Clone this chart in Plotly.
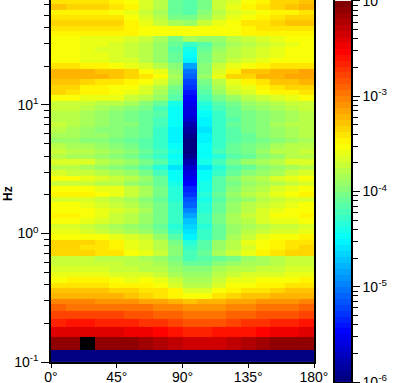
import plotly.graph_objects as go
import numpy as np

# angle bin edges (degrees)
angle_edges = [0,10,20,30,40,50,60,70,80,90,100,110,120,130,140,150,160,170,180]
# frequency bin edges (Hz)
freq_edges = [.1,.124,.1565,.187,.216,.249,.283,.312,.343,.378,.416,.458,.504,.555,.611,.672,.740,.814,.896,.986,
 1.085,1.194,1.314,1.447,1.592,1.752,1.929,2.123,2.336,2.571,2.830,3.115,3.428,3.773,4.153,4.571,5.031,5.537,
 6.094,6.707,7.382,8.125,8.942,9.842,10.83,11.92,13.12,14.44,15.90,17.49,19.25,21.19,23.32,25.67,28.25,31.09,
 34.22,37.66,41.45,45.62,50.21,55.26,60.82,66.9]

# colour level of each cell (1/16 decade steps above 1e-6), bottom row first
levels = [
[0,0,0,0,0,0,0,0,0,0,0,0,0,0,0,0,0,0],
[62,62,64,62,62,62,61,60,59,58,58,58,59,60,61,62,62,62],
[57,57,57,57,57,56,56,55,54,53,53,54,54,54,55,56,56,57],
[53,54,54,53,53,53,52,52,51,50,50,50,51,52,52,53,53,54],
[51,51,51,51,51,50,50,49,49,48,48,48,49,49,50,50,50,51],
[49,48,48,48,48,48,48,47,47,46,46,46,47,47,48,48,48,49],
[47,47,47,46,46,46,45,45,44,43,44,44,45,45,46,46,46,47],
[44,44,44,44,44,43,42,41,40,39,39,41,42,43,43,44,44,44],
[43,43,43,43,42,42,41,41,40,37,37,39,40,41,41,42,43,43],
[41,41,41,41,40,40,40,39,37,35,35,37,39,39,40,40,41,41],
[39,40,40,40,39,38,39,38,36,34,34,36,38,38,39,39,39,40],
[38,38,38,38,37,37,37,36,34,33,33,35,36,37,37,37,38,38],
[37,37,37,37,36,36,35,35,33,32,32,34,35,35,36,36,37,37],
[36,36,36,36,36,35,35,34,32,30,30,32,33,34,34,35,36,36],
[36,36,36,35,35,35,34,33,31,28,29,30,31,33,34,35,36,36],
[42,42,42,41,41,39,38,36,32,28,30,34,36,38,40,41,42,42],
[42,42,41,41,40,38,37,35,32,27,29,33,35,37,39,40,41,42],
[42,42,42,41,40,38,37,35,31,26,29,33,35,38,39,40,41,41],
[39,39,39,39,38,37,36,33,29,23,27,30,34,36,38,39,39,40],
[38,38,37,36,35,34,33,31,27,22,27,30,33,35,36,37,37,38],
[37,37,36,35,34,33,32,30,26,21,26,30,33,34,35,36,36,37],
[39,39,38,37,36,35,33,31,27,20,27,31,34,35,37,38,38,39],
[40,40,39,38,36,35,33,31,27,18,27,31,34,36,37,39,39,40],
[39,39,39,38,37,36,34,31,27,16,26,30,33,35,37,38,39,39],
[39,39,38,37,36,35,33,31,27,14,26,30,33,35,36,37,38,39],
[37,37,37,36,35,34,32,30,26,13,25,29,32,33,35,36,37,37],
[40,40,40,39,38,36,34,31,26,11,26,30,33,35,36,38,39,40],
[39,39,39,38,38,36,34,31,26,10,25,29,32,34,35,37,38,39],
[36,36,36,35,35,33,32,30,25,8,25,29,31,33,34,35,36,37],
[39,39,38,37,36,35,33,30,24,7,24,29,32,34,35,37,38,39],
[37,36,36,35,34,33,31,28,24,6,24,27,30,32,33,34,36,37],
[35,35,34,33,32,31,29,26,22,5,22,26,29,30,32,33,34,35],
[37,37,37,35,34,33,31,29,25,3,25,28,31,33,34,35,37,37],
[35,34,34,33,32,31,29,27,24,1,24,26,29,30,32,33,35,35],
[36,35,35,34,33,32,30,28,25,0,24,28,30,31,33,35,35,36],
[35,34,34,33,32,31,29,27,24,0,24,27,30,31,32,34,35,35],
[33,33,32,32,31,30,29,27,23,0,23,27,29,30,31,32,33,34],
[34,34,33,33,32,31,30,27,23,1,23,27,29,30,32,33,34,35],
[35,34,33,32,32,31,30,27,23,2,22,27,29,31,32,33,34,35],
[36,35,34,33,32,32,30,28,24,3,23,27,30,31,32,34,35,35],
[35,35,34,33,32,31,30,28,24,5,23,27,29,31,32,33,34,35],
[35,35,34,33,32,31,30,29,24,6,24,27,30,31,32,33,34,35],
[36,36,35,34,33,32,31,28,24,6,25,28,30,32,33,34,35,36],
[36,36,36,35,35,34,32,30,25,7,26,29,31,33,34,35,36,36],
[39,39,38,38,38,36,35,33,29,8,28,31,33,35,36,37,38,39],
[42,41,40,40,39,38,37,34,30,9,29,33,36,37,39,40,40,41],
[42,42,40,40,39,39,37,35,31,11,30,34,37,38,40,41,42,42],
[43,43,42,41,41,40,39,37,33,12,31,35,38,40,41,43,43,44],
[44,44,44,44,43,42,41,39,34,14,33,38,42,42,44,44,45,45],
[44,44,44,43,43,42,39,38,33,15,32,37,40,43,43,44,44,45],
[41,41,40,40,39,38,37,35,32,18,32,36,38,39,40,41,41,41],
[39,39,38,38,37,37,35,33,30,23,31,34,36,37,38,39,39,39],
[39,39,38,38,37,36,35,33,30,24,31,34,35,36,37,38,39,39],
[39,39,38,37,37,36,35,33,29,25,30,33,35,36,37,38,39,39],
[39,39,38,38,37,36,35,33,30,27,29,32,34,35,36,37,38,39],
[39,39,38,38,38,37,36,34,31,34,33,33,35,36,37,38,39,39],
[40,40,40,40,40,40,39,39,39,39,39,39,39,40,40,40,40,40],
[41,41,41,41,41,40,39,39,39,39,39,39,39,40,41,41,41,41],
[42,42,42,42,42,40,38,36,34,33,36,38,39,41,41,42,43,43],
[41,41,41,41,41,39,37,35,31,31,33,36,38,39,40,41,42,42],
[40,40,40,40,39,38,36,34,30,29,32,35,37,38,39,40,40,41],
[43,42,42,42,41,40,37,35,30,29,31,36,38,40,41,42,43,44],
[41,41,41,41,40,39,37,35,30,29,31,36,37,39,40,42,42,43],
]

cbar_level_edges = list(range(65))
y_major = [0.1,1,10]
y_major_text = ["10<sup>-1</sup>","10<sup>0</sup>","10<sup>1</sup>"]
y_minor = [m*d for d in (0.1,1,10) for m in (2,3,4,5,6,7,8,9)]
x_ticks = [0,45,90,135,180]
x_text = ["0°","45°","90°","135°","180°"]
cb_major = [1e-6,1e-5,1e-4,1e-3,1e-2]
cb_text = ["10<sup>-6</sup>","10<sup>-5</sup>","10<sup>-4</sup>","10<sup>-3</sup>","10<sup>-2</sup>"]
cb_minor = [m*d for d in (1e-6,1e-5,1e-4,1e-3) for m in (2,3,4,5,6,7,8,9)]

def jet(i, n=64):
    t = i/(n-1)
    f = lambda c: max(0.0, min(1.0, 1.5-abs(4*t-c)))
    return "rgb(%d,%d,%d)" % (round(255*f(3)), round(255*f(2)), round(255*f(1)))

# 64 jet steps plus black for overflow
n = 65
scale = []
for i in range(64):
    scale += [[i/n, jet(i)], [(i+1)/n, jet(i)]]
scale += [[64/n, "rgb(0,0,0)"], [1, "rgb(0,0,0)"]]

W, H = 418, 383
font = dict(family="Liberation Sans, Arial, sans-serif", size=14, color="black")
fig = go.Figure()
fig.add_trace(go.Heatmap(x=angle_edges, y=freq_edges, z=np.array(levels)+0.5, zmin=0, zmax=n,
                         colorscale=scale, showscale=False, hoverinfo="skip", xaxis="x", yaxis="y"))
cb_edges = [10**(-6+e/16) for e in cbar_level_edges]
fig.add_trace(go.Heatmap(x=[0,1], y=cb_edges, z=[[i+0.5] for i in range(64)], zmin=0, zmax=n,
                         colorscale=scale, showscale=False, hoverinfo="skip", xaxis="x2", yaxis="y2"))
fig.update_layout(
    template=None,
    width=W, height=H, margin=dict(l=0,r=0,t=0,b=0,autoexpand=False), paper_bgcolor="white", plot_bgcolor="white",
    font=font, showlegend=False,
    xaxis=dict(domain=[51/W,314/W], range=[0,180], tickvals=x_ticks, ticktext=x_text, ticks="outside",
               ticklen=4, tickwidth=1, tickcolor="black", showline=True, linewidth=1.5, linecolor="black",
               mirror=True, showgrid=False, zeroline=False, anchor="y", automargin=False, ticklabelstandoff=-3),
    yaxis=dict(domain=[(H-362)/H,1], type="log", range=[-1,1.817], tickvals=y_major, ticktext=y_major_text,
               ticks="outside", ticklen=8, tickwidth=1, tickcolor="black", showline=True, linewidth=1.5,
               linecolor="black", mirror=True, showgrid=False, zeroline=False, anchor="x", automargin=False,
               minor=dict(tickvals=y_minor, ticks="outside", ticklen=5, tickwidth=1, tickcolor="black", showgrid=False)),
    xaxis2=dict(domain=[335/W,351/W], range=[0,1], showticklabels=False, ticks="", showline=True, linewidth=1.5,
                linecolor="black", mirror=True, showgrid=False, zeroline=False, anchor="y2", automargin=False),
    yaxis2=dict(domain=[1/H,1], type="log", range=[-6,-1.99], side="right", anchor="x2", tickvals=cb_major, ticktext=cb_text,
                ticks="outside", ticklen=7, tickwidth=1, tickcolor="black", showline=True, linewidth=1.5,
                linecolor="black", mirror=True, showgrid=False, zeroline=False, automargin=False,
                ticklabeloverflow="allow",
                minor=dict(tickvals=cb_minor, ticks="outside", ticklen=5, tickwidth=1, tickcolor="black", showgrid=False)),
    annotations=[dict(text="<b>Hz</b>", xref="paper", yref="paper", x=8/W, y=(H-194)/H, showarrow=False,
                      textangle=-90, font=dict(size=12), xanchor="center", yanchor="middle")],
)
assert len(levels) == len(freq_edges)-1
fig.write_html("out.html", config=dict(displayModeBar=False),
               post_script="document.body.style.margin='0';document.documentElement.style.overflow='hidden';")
